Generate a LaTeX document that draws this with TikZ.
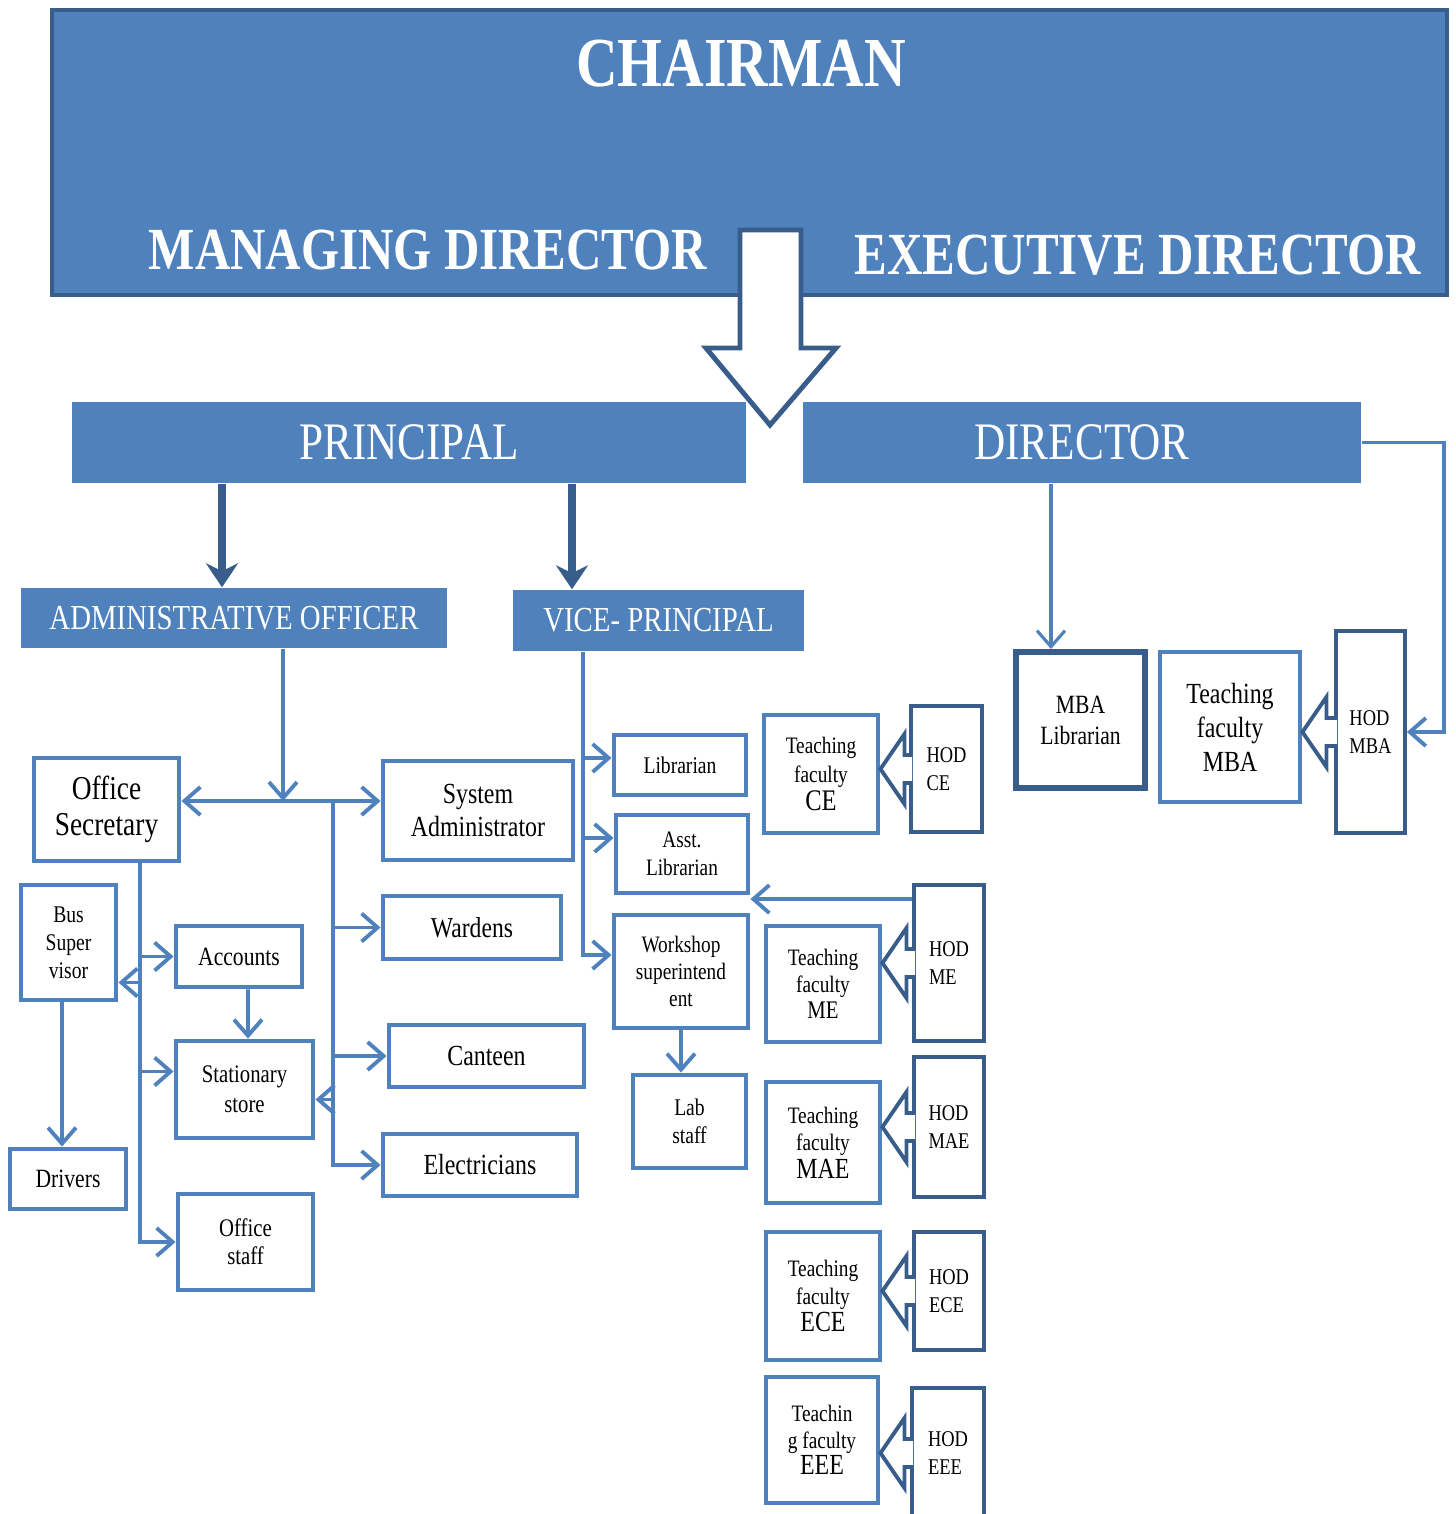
\documentclass[tikz,border=0pt]{standalone}
\usepackage{fontspec}
\setmainfont[FakeStretch=0.82]{Liberation Serif}
\usetikzlibrary{arrows.meta,calc}
\definecolor{bxblue}{HTML}{4F81BD}
\definecolor{hddark}{HTML}{385D8A}
\newcommand{\fsz}[2]{\fontsize{#1}{#2}\selectfont}

\begin{document}
\begin{tikzpicture}[>={Straight Barb[length=1.6mm,width=2.8mm]},
   head/.style={fill=bxblue,text=white,inner sep=0pt},
   box/.style={draw=bxblue,line width=1.4pt,fill=white,align=center,inner sep=1pt},
   hodbox/.style={draw=hddark,line width=1.1pt,fill=white,align=left,inner sep=1pt,font=\fsz{6.4}{8}},
   conn/.style={draw=bxblue,line width=1.1pt,->},
   bigarr/.style={draw=hddark,line width=2.2pt,-{Stealth[length=2.4mm,width=3.2mm]}},
   callout/.style={draw=hddark,line width=1.1pt,fill=white,line join=miter}]
   \useasboundingbox (0,0) rectangle (14.56,-15.14);
   % top block
   \node[head,minimum width=13.95cm,minimum height=2.85cm,draw=hddark,line width=1pt] (chair) at (7.495,-1.525) {};
   \node[text=white,font=\fsz{20}{24}\bfseries] (chairt) at (7.41,-0.64) {CHAIRMAN};
   \node[text=white,font=\fsz{17}{20}\bfseries] (md) at (4.28,-2.50) {MANAGING DIRECTOR};
   \node[text=white,font=\fsz{17}{20}\bfseries] (ed) at (11.38,-2.55) {EXECUTIVE DIRECTOR};
   \node[head,minimum width=6.74cm,minimum height=0.81cm,font=\fsz{15}{18}] (principal) at (4.09,-4.425) {PRINCIPAL};
   \node[head,minimum width=5.58cm,minimum height=0.81cm,font=\fsz{15}{18}] (director) at (10.82,-4.425) {DIRECTOR};
   \draw[draw=hddark,fill=white,line width=1.4pt,line join=miter] (7.40,-2.30) -- (8.01,-2.30) -- (8.01,-3.48) -- (8.36,-3.48) -- (7.70,-4.25) -- (7.06,-3.48) -- (7.40,-3.48) -- cycle;
   \node[head,minimum width=4.26cm,minimum height=0.60cm,font=\fsz{10}{12}] (admin) at (2.34,-6.18) {ADMINISTRATIVE OFFICER};
   \node[head,minimum width=2.91cm,minimum height=0.61cm,font=\fsz{10}{12}] (vice) at (6.585,-6.205) {VICE- PRINCIPAL};
   % admin side
   \node[box,minimum width=1.45cm,minimum height=1.03cm,font=\fsz{9.5}{10.3}] (osec) at (1.065,-8.095) {Office\\Secretary};
   \node[box,minimum width=0.95cm,minimum height=1.15cm,font=\fsz{6.8}{8}] (bus) at (0.685,-9.425) {Bus\\Super\\visor};
   \node[box,minimum width=1.16cm,minimum height=0.60cm,font=\fsz{7.5}{9}] (drivers) at (0.68,-11.79) {Drivers};
   \node[box,minimum width=1.26cm,minimum height=0.61cm,font=\fsz{7.5}{9}] (accounts) at (2.39,-9.565) {Accounts};
   \node[box,minimum width=1.37cm,minimum height=0.97cm,font=\fsz{7.2}{8.6}] (stat) at (2.445,-10.895) {Stationary\\store};
   \node[box,minimum width=1.35cm,minimum height=0.96cm,font=\fsz{7.2}{8}] (ostaff) at (2.455,-12.42) {Office\\staff};
   \node[box,minimum width=1.90cm,minimum height=0.99cm,font=\fsz{8.3}{9.4}] (sysadm) at (4.78,-8.105) {System\\Administrator};
   \node[box,minimum width=1.78cm,minimum height=0.63cm,font=\fsz{8.2}{10}] (wardens) at (4.72,-9.275) {Wardens};
   \node[box,minimum width=1.95cm,minimum height=0.62cm,font=\fsz{8.3}{10}] (canteen) at (4.865,-10.56) {Canteen};
   \node[box,minimum width=1.94cm,minimum height=0.62cm,font=\fsz{8.3}{10}] (elect) at (4.80,-11.65) {Electricians};
   % vice-principal side
   \node[box,minimum width=1.32cm,minimum height=0.60cm,font=\fsz{6.8}{8}] (lib) at (6.80,-7.65) {Librarian};
   \node[box,minimum width=1.32cm,minimum height=0.78cm,font=\fsz{6.7}{8}] (asst) at (6.82,-8.54) {Asst.\\Librarian};
   \node[box,minimum width=1.34cm,minimum height=1.13cm,font=\fsz{6.7}{7.8}] (workshop) at (6.81,-9.715) {Workshop\\superintend\\ent};
   \node[box,minimum width=1.13cm,minimum height=0.93cm,font=\fsz{6.8}{8}] (lab) at (6.895,-11.215) {Lab\\staff};
   \node[box,minimum width=1.14cm,minimum height=1.18cm,font=\fsz{6.7}{8}] (tfce) at (8.21,-7.74) {Teaching\\faculty\\\fsz{8.5}{9}CE};
   \node[box,minimum width=1.14cm,minimum height=1.16cm,font=\fsz{6.7}{7.6}] (tfme) at (8.23,-9.84) {Teaching\\faculty\\\fsz{7.2}{8}ME};
   \node[box,minimum width=1.14cm,minimum height=1.21cm,font=\fsz{6.7}{7.8}] (tfmae) at (8.23,-11.425) {Teaching\\faculty\\\fsz{8.3}{9}MAE};
   \node[box,minimum width=1.14cm,minimum height=1.28cm,font=\fsz{6.7}{7.8}] (tfece) at (8.23,-12.96) {Teaching\\faculty\\\fsz{8.3}{9}ECE};
   \node[box,minimum width=1.12cm,minimum height=1.26cm,font=\fsz{6.7}{7.6}] (tfeee) at (8.22,-14.40) {Teachin\\g faculty\\\fsz{8.3}{9}EEE};
   \node[hodbox,minimum width=0.71cm,minimum height=1.26cm] (hodce) at (9.465,-7.69) {HOD\\CE};
   \node[hodbox,minimum width=0.70cm,minimum height=1.56cm] (hodme) at (9.49,-9.63) {HOD\\ME};
   \node[hodbox,minimum width=0.70cm,minimum height=1.40cm] (hodmae) at (9.49,-11.27) {HOD\\MAE};
   \node[hodbox,minimum width=0.70cm,minimum height=1.18cm] (hodece) at (9.49,-12.91) {HOD\\ECE};
   \node[hodbox,minimum width=0.72cm,minimum height=1.30cm] (hodeee) at (9.48,-14.53) {HOD\\EEE};
   % director side
   \node[box,draw=hddark,line width=1.7pt,minimum width=1.29cm,minimum height=1.36cm,font=\fsz{7.5}{8.8}] (mbalib) at (10.805,-7.20) {MBA\\Librarian};
   \node[box,minimum width=1.40cm,minimum height=1.50cm,font=\fsz{8.3}{9.7}] (tfmba) at (12.30,-7.27) {Teaching\\faculty\\MBA};
   \node[hodbox,minimum width=0.69cm,minimum height=2.02cm] (hodmba) at (13.705,-7.32) {HOD\\MBA};
   % HOD callouts
   \foreach \h/\t in {hodce/tfce,hodme/tfme,hodmae/tfmae,hodece/tfece,hodeee/tfeee,hodmba/tfmba}
     \draw[callout] ([shift={(0.03,0.14)}]\h.west) -- ($(\t.east |- \h.west)+(0.24,0.14)$) -- ($(\t.east |- \h.west)+(0.24,0.35)$) -- (\t.east |- \h.west) -- ($(\t.east |- \h.west)+(0.24,-0.35)$) -- ($(\t.east |- \h.west)+(0.24,-0.14)$) -- ([shift={(0.03,-0.14)}]\h.west);
   % connectors
   \coordinate (pa) at ([xshift=-1.87cm]principal.south);
   \coordinate (pv) at ([xshift=1.63cm]principal.south);
   \draw[bigarr] (pa) -- (pa |- admin.north);
   \draw[bigarr] (pv) -- (pv |- vice.north);
   \coordinate (dl) at ([xshift=-0.31cm]director.south);
   \draw[conn,line width=0.9pt] (dl) -- (dl |- mbalib.north);
   \draw[conn] (director.east) -- ++(0.82,0) |- (hodmba.east);
   \coordinate (ahub) at (2.83,-8.01);
   \coordinate (atrunk) at ([xshift=0.5cm]ahub);
   \draw[conn] (admin.south -| ahub) -- (ahub);
   \draw[conn] (ahub) -- (ahub -| osec.east);
   \draw[conn] (ahub) -- (ahub -| sysadm.west);
   \draw[conn] (atrunk) |- (elect.west);
   \draw[conn] (atrunk |- wardens.west) -- (wardens.west);
   \draw[conn] (atrunk |- canteen.west) -- (canteen.west);
   \coordinate (sin) at ([yshift=-0.10cm]stat.east);
   \draw[conn] (atrunk |- sin) -- (sin);
   \coordinate (strunk) at ([xshift=0.335cm]osec.south);
   \draw[conn] (strunk) |- (ostaff.west);
   \draw[conn] (strunk |- accounts.west) -- (accounts.west);
   \coordinate (sout) at ([yshift=0.18cm]stat.west);
   \draw[conn] (strunk |- sout) -- (sout);
   \coordinate (bin) at ([yshift=-0.40cm]bus.east);
   \draw[conn] (strunk |- bin) -- (bin);
   \coordinate (bd) at ([xshift=-0.065cm]bus.south);
   \draw[conn] (bd) -- (bd |- drivers.north);
   \draw[conn] ([xshift=0.09cm]accounts.south) -- ([xshift=0.035cm]stat.north);
   \coordinate (vtrunk) at ([xshift=-0.755cm]vice.south);
   \coordinate (win) at ([yshift=0.165cm]workshop.west);
   \draw[conn] (vtrunk) |- (win);
   \coordinate (lin) at ([yshift=0.07cm]lib.west);
   \draw[conn] (vtrunk |- lin) -- (lin);
   \coordinate (ain) at ([yshift=0.16cm]asst.west);
   \draw[conn] (vtrunk |- ain) -- (ain);
   \draw[conn] (workshop.south) -- (workshop.south |- lab.north);
   \coordinate (hm) at ([yshift=-0.16cm]hodme.north west);
   \draw[conn] (hm) -- (hm -| asst.east);
\end{tikzpicture}
\end{document}
